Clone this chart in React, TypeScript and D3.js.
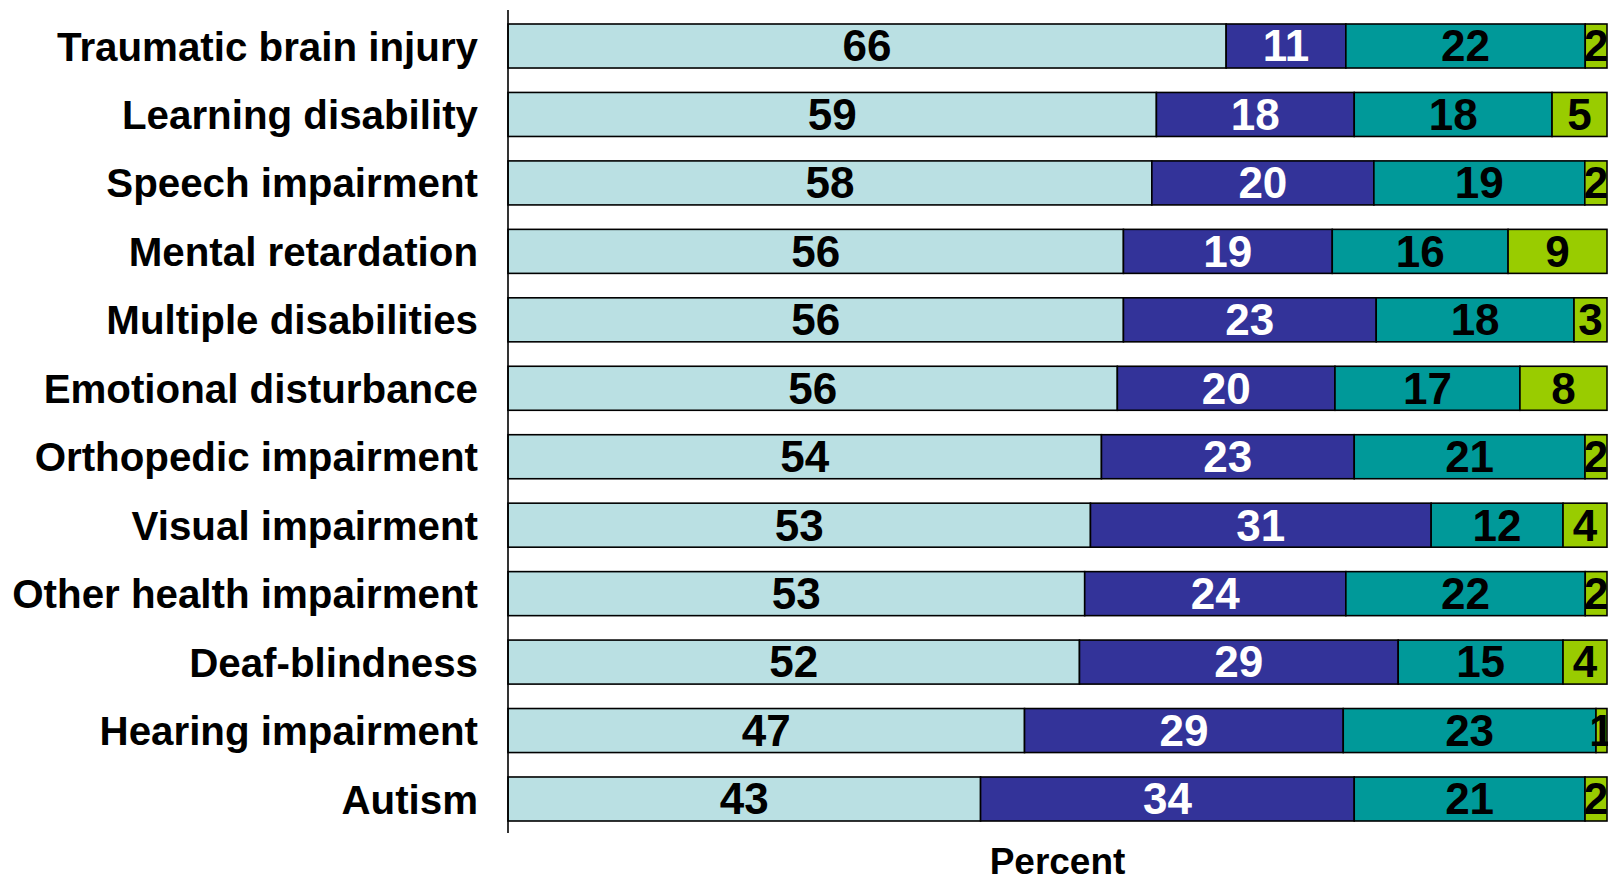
import React from "react";
import * as d3 from "d3";

const categories = [
  "Traumatic brain injury",
  "Learning disability",
  "Speech impairment",
  "Mental retardation",
  "Multiple disabilities",
  "Emotional disturbance",
  "Orthopedic impairment",
  "Visual impairment",
  "Other health impairment",
  "Deaf-blindness",
  "Hearing impairment",
  "Autism",
];

const series1 = [66, 59, 58, 56, 56, 56, 54, 53, 53, 52, 47, 43];
const series2 = [11, 18, 20, 19, 23, 20, 23, 31, 24, 29, 29, 34];
const series3 = [22, 18, 19, 16, 18, 17, 21, 12, 22, 15, 23, 21];
const series4 = [2, 5, 2, 9, 3, 8, 2, 4, 2, 4, 1, 2];

const seriesKeys = ["s1", "s2", "s3", "s4"];
const seriesList = [series1, series2, series3, series4];
const fills = ["#BAE0E3", "#333399", "#009999", "#99CC00"];
const textFills = ["#000000", "#FFFFFF", "#000000", "#000000"];

const W = 1608;
const H = 877;

export default function App() {
  const table = categories.map((c, i) => {
    const row: any = { category: c };
    seriesKeys.forEach((k, j) => (row[k] = seriesList[j][i]));
    return row;
  });

  const stacked = d3
    .stack<any>()
    .keys(seriesKeys)
    .offset(d3.stackOffsetExpand)(table);

  const x = d3.scaleLinear().domain([0, 1]).range([508, 1607]);
  const y = d3
    .scaleBand<string>()
    .domain(categories)
    .range([24, 821])
    .paddingInner(0.357)
    .paddingOuter(0);

  const font = "Arial, 'Liberation Sans', sans-serif";
  const bw = y.bandwidth();

  return (
    <svg
      width={W}
      height={H}
      style={{ position: "absolute", left: 0, top: 0, background: "#fff" }}
    >
      <defs>
        <clipPath id="clip">
          <rect x={0} y={0} width={W} height={H} />
        </clipPath>
      </defs>
      <g clipPath="url(#clip)">
        {stacked.map((layer, k) => (
          <g key={layer.key}>
            {layer.map((d, i) => (
              <rect
                key={i}
                x={x(d[0])}
                y={y(categories[i])!}
                width={x(d[1]) - x(d[0])}
                height={bw}
                fill={fills[k]}
                stroke="#000"
                strokeWidth={1.6}
              />
            ))}
          </g>
        ))}
        {stacked.map((layer, k) => (
          <g key={"t" + layer.key}>
            {layer.map((d, i) => (
              <text
                key={i}
                x={(x(d[0]) + x(d[1])) / 2}
                y={y(categories[i])! + bw / 2}
                dy="0.35em"
                textAnchor="middle"
                fontFamily={font}
                fontWeight="bold"
                fontSize={44}
                fill={textFills[k]}
              >
                {seriesList[k][i]}
              </text>
            ))}
          </g>
        ))}
        {categories.map((c) => (
          <text
            key={c}
            x={478}
            y={y(c)! + bw / 2}
            dy="0.36em"
            textAnchor="end"
            fontFamily={font}
            fontWeight="bold"
            fontSize={40.3}
            fill="#000"
          >
            {c}
          </text>
        ))}
        <line x1={508} x2={508} y1={10} y2={833} stroke="#000" strokeWidth={1.6} />
        <text
          x={(x(0) + x(1)) / 2}
          y={874}
          textAnchor="middle"
          fontFamily={font}
          fontWeight="bold"
          fontSize={37}
          fill="#000"
        >
          Percent
        </text>
      </g>
    </svg>
  );
}
